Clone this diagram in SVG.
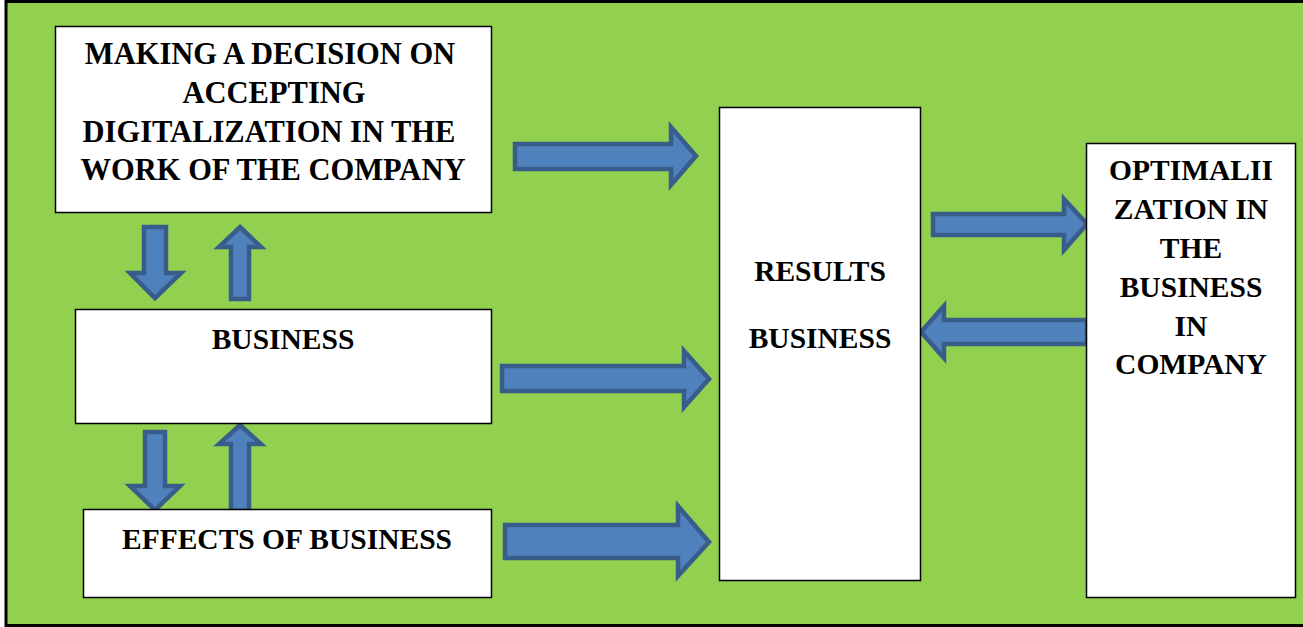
<svg xmlns="http://www.w3.org/2000/svg" width="1303" height="627" viewBox="0 0 1303 627">
<style>
.box{fill:#fff;stroke:#000;stroke-width:1.5}
.arr{fill:#4F81BD;stroke:#385D8A;stroke-width:4.5;stroke-linejoin:miter}
.t{font-family:"Liberation Serif","Times New Roman",serif;font-weight:bold;font-size:29.5px;fill:#000;text-anchor:middle}
.big{font-size:30.5px}
</style>
<rect x="0" y="0" width="1303" height="627" fill="#fff"/>
<rect x="6" y="1.5" width="1300" height="624" fill="#92D050" stroke="#000" stroke-width="3"/>
<g id="connectors">
<path class="arr" d="M515,144 H671 V127 L696,156 L671,185 V169 H515 Z"/>
<path class="arr" d="M502,366 H684 V351 L709,379 L684,407 V391 H502 Z"/>
<path class="arr" d="M505,525 H678 V506 L709,542 L678,576 V558 H505 Z"/>
<path class="arr" d="M933,214 H1064 V199 L1087,224 L1064,250 V235 H933 Z"/>
<path class="arr" d="M1087,320 H944 V306 L921,332 L944,358 V344 H1087 Z"/>
<path class="arr" d="M144,227 H166 V273 H181 L155,298 L130,273 H144 Z"/>
<path class="arr" d="M240,227 L261,247 H249 V299 H231 V247 H219 Z"/>
<path class="arr" d="M145,432 H165 V486 H180 L155,510 L130,486 H145 Z"/>
<path class="arr" d="M240,425 L261,444 H249 V511 H231 V444 H219 Z"/>
</g>
<g id="decision">
<rect class="box" x="55.5" y="26.5" width="436" height="186"/>
<text class="t big" x="270" y="64">MAKING A DECISION ON</text>
<text class="t big" x="274" y="103">ACCEPTING</text>
<text class="t big" x="269" y="142">DIGITALIZATION IN THE</text>
<text class="t big" x="273" y="180">WORK OF THE COMPANY</text>
</g>
<g id="business">
<rect class="box" x="75.5" y="309.5" width="416" height="114"/>
<text class="t" x="283" y="349">BUSINESS</text>
</g>
<g id="effects">
<rect class="box" x="83.5" y="509.5" width="408" height="88"/>
<text class="t" x="287" y="549">EFFECTS OF BUSINESS</text>
</g>
<g id="results">
<rect class="box" x="719.5" y="107.5" width="201" height="473"/>
<text class="t" x="820" y="281">RESULTS</text>
<text class="t" x="820" y="348">BUSINESS</text>
</g>
<g id="optimization">
<rect class="box" x="1086.5" y="143.5" width="209" height="454"/>
<text class="t" x="1191" y="180">OPTIMALII</text>
<text class="t" x="1191" y="219">ZATION IN</text>
<text class="t" x="1191" y="258">THE</text>
<text class="t" x="1191" y="297">BUSINESS</text>
<text class="t" x="1191" y="336">IN</text>
<text class="t" x="1191" y="374">COMPANY</text>
</g>
</svg>
